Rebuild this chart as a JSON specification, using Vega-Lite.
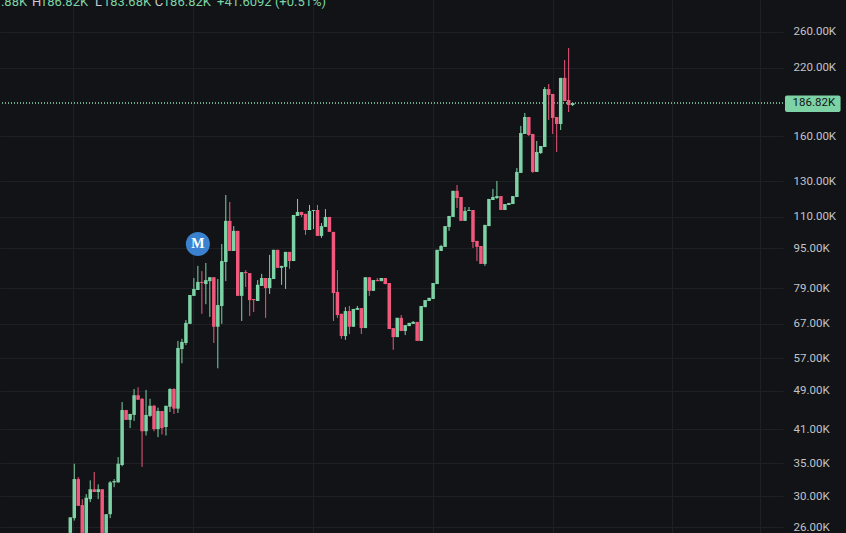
{
"$schema":"https://vega.github.io/schema/vega-lite/v6.json",
"width":783,"height":533,"padding":{"left":0,"top":0,"right":63,"bottom":0},"autosize":"none","background":"#121316",
"view":{"stroke":null},
"config":{"axis":{"labelFont":"Roboto","gridColor":"#1e2023","gridWidth":1}},
"datasets":{
"candles":[
{"t":0,"o":25.3,"h":27.2,"l":25.3,"c":27.2},
{"t":1,"o":27.1,"h":34.9,"l":26.8,"c":32.5},
{"t":2,"o":32.5,"h":32.8,"l":28.7,"c":28.7},
{"t":3,"o":28.8,"h":29.6,"l":25.3,"c":25.3},
{"t":4,"o":25.3,"h":30.3,"l":25.3,"c":29.8},
{"t":5,"o":29.6,"h":32.3,"l":29.2,"c":31.0},
{"t":6,"o":31.0,"h":33.6,"l":30.6,"c":30.6},
{"t":7,"o":30.6,"h":31.7,"l":29.6,"c":31.0},
{"t":8,"o":31.0,"h":31.0,"l":25.3,"c":25.3},
{"t":9,"o":25.3,"h":27.6,"l":25.3,"c":27.6},
{"t":10,"o":27.6,"h":32.2,"l":27.1,"c":32.0},
{"t":11,"o":32.0,"h":32.5,"l":31.3,"c":32.2},
{"t":12,"o":32.0,"h":36.0,"l":32.0,"c":34.9},
{"t":13,"o":34.7,"h":46.5,"l":34.5,"c":44.8},
{"t":14,"o":44.8,"h":44.8,"l":42.8,"c":42.8},
{"t":15,"o":42.8,"h":44.0,"l":41.2,"c":44.0},
{"t":16,"o":43.8,"h":49.4,"l":42.6,"c":48.0},
{"t":17,"o":48.0,"h":49.8,"l":47.0,"c":47.0},
{"t":18,"o":47.2,"h":47.4,"l":34.4,"c":40.6},
{"t":19,"o":40.6,"h":49.2,"l":39.8,"c":43.8},
{"t":20,"o":43.6,"h":47.2,"l":43.4,"c":45.7},
{"t":21,"o":45.7,"h":45.9,"l":40.6,"c":41.0},
{"t":22,"o":41.0,"h":45.3,"l":39.5,"c":44.6},
{"t":23,"o":44.6,"h":44.6,"l":40.0,"c":41.2},
{"t":24,"o":41.4,"h":45.7,"l":39.8,"c":45.7},
{"t":25,"o":45.5,"h":49.6,"l":44.4,"c":49.4},
{"t":26,"o":49.4,"h":49.6,"l":44.0,"c":45.1},
{"t":27,"o":45.1,"h":61.8,"l":44.2,"c":59.8},
{"t":28,"o":59.5,"h":62.4,"l":55.7,"c":61.5},
{"t":29,"o":61.2,"h":68.1,"l":60.6,"c":67.2},
{"t":30,"o":66.9,"h":76.5,"l":66.9,"c":76.5},
{"t":31,"o":76.2,"h":82.8,"l":76.2,"c":78.7},
{"t":32,"o":78.3,"h":87.6,"l":78.3,"c":81.3},
{"t":33,"o":81.3,"h":85.5,"l":70.1,"c":80.9},
{"t":34,"o":80.5,"h":88.8,"l":73.3,"c":82.0},
{"t":35,"o":81.6,"h":83.1,"l":69.1,"c":83.1},
{"t":36,"o":83.1,"h":83.1,"l":61.2,"c":66.0},
{"t":37,"o":66.0,"h":82.4,"l":54.4,"c":73.0},
{"t":38,"o":72.7,"h":97.0,"l":66.9,"c":89.6},
{"t":39,"o":89.2,"h":121.8,"l":81.6,"c":108.0},
{"t":40,"o":108.0,"h":117.9,"l":93.9,"c":93.9},
{"t":41,"o":93.9,"h":105.4,"l":93.9,"c":103.1},
{"t":42,"o":103.1,"h":103.1,"l":76.2,"c":76.2},
{"t":43,"o":76.2,"h":85.1,"l":67.8,"c":85.1},
{"t":44,"o":85.1,"h":85.9,"l":79.4,"c":84.7},
{"t":45,"o":84.7,"h":84.7,"l":69.4,"c":74.7},
{"t":46,"o":75.1,"h":75.1,"l":70.7,"c":74.7},
{"t":47,"o":74.4,"h":82.0,"l":74.4,"c":80.2},
{"t":48,"o":79.8,"h":84.4,"l":79.8,"c":82.8},
{"t":49,"o":82.8,"h":82.8,"l":68.8,"c":79.0},
{"t":50,"o":79.0,"h":92.2,"l":76.9,"c":82.8},
{"t":51,"o":82.4,"h":94.4,"l":82.4,"c":94.4},
{"t":52,"o":94.4,"h":94.4,"l":86.8,"c":86.8},
{"t":53,"o":86.8,"h":87.6,"l":80.2,"c":87.6},
{"t":54,"o":87.2,"h":93.5,"l":78.7,"c":93.5},
{"t":55,"o":93.5,"h":93.5,"l":86.4,"c":89.6},
{"t":56,"o":89.6,"h":111.0,"l":89.6,"c":111.0},
{"t":57,"o":110.5,"h":119.6,"l":110.5,"c":112.6},
{"t":58,"o":112.6,"h":112.6,"l":110.0,"c":111.0},
{"t":59,"o":111.6,"h":111.6,"l":101.2,"c":103.5},
{"t":60,"o":103.5,"h":116.3,"l":103.5,"c":113.1},
{"t":61,"o":113.1,"h":113.6,"l":104.0,"c":113.6},
{"t":62,"o":113.6,"h":116.3,"l":100.7,"c":100.7},
{"t":63,"o":100.7,"h":106.9,"l":99.8,"c":105.4},
{"t":64,"o":105.0,"h":114.1,"l":105.0,"c":110.0},
{"t":65,"o":110.0,"h":110.0,"l":102.6,"c":102.6},
{"t":66,"o":102.6,"h":102.6,"l":67.8,"c":77.2},
{"t":67,"o":77.6,"h":85.9,"l":68.8,"c":69.7},
{"t":68,"o":70.1,"h":70.1,"l":62.4,"c":63.2},
{"t":69,"o":63.2,"h":72.3,"l":62.1,"c":71.0},
{"t":70,"o":71.0,"h":72.7,"l":63.8,"c":66.0},
{"t":71,"o":66.0,"h":71.7,"l":66.0,"c":71.7},
{"t":72,"o":71.4,"h":72.7,"l":71.4,"c":72.0},
{"t":73,"o":72.0,"h":72.0,"l":63.8,"c":65.6},
{"t":74,"o":65.6,"h":83.1,"l":65.6,"c":83.1},
{"t":75,"o":83.1,"h":83.1,"l":76.2,"c":78.0},
{"t":76,"o":78.0,"h":82.0,"l":78.0,"c":82.0},
{"t":77,"o":82.0,"h":82.8,"l":81.6,"c":81.6},
{"t":78,"o":81.6,"h":82.8,"l":81.6,"c":82.8},
{"t":79,"o":82.8,"h":82.8,"l":80.5,"c":80.5},
{"t":80,"o":80.9,"h":80.9,"l":65.3,"c":65.3},
{"t":81,"o":65.6,"h":65.6,"l":59.3,"c":62.9},
{"t":82,"o":62.9,"h":68.8,"l":62.9,"c":68.8},
{"t":83,"o":68.8,"h":69.7,"l":64.7,"c":64.7},
{"t":84,"o":64.7,"h":66.5,"l":63.5,"c":66.5},
{"t":85,"o":66.2,"h":67.2,"l":66.2,"c":67.2},
{"t":86,"o":66.9,"h":67.8,"l":66.9,"c":67.5},
{"t":87,"o":67.5,"h":67.5,"l":61.8,"c":61.8},
{"t":88,"o":61.8,"h":72.7,"l":61.8,"c":72.7},
{"t":89,"o":72.3,"h":74.7,"l":72.3,"c":74.7},
{"t":90,"o":74.4,"h":75.5,"l":74.4,"c":75.5},
{"t":91,"o":75.1,"h":80.9,"l":75.1,"c":80.9},
{"t":92,"o":80.5,"h":94.4,"l":80.5,"c":94.4},
{"t":93,"o":93.9,"h":96.6,"l":93.9,"c":96.1},
{"t":94,"o":95.7,"h":105.4,"l":95.7,"c":105.4},
{"t":95,"o":105.0,"h":110.5,"l":103.1,"c":110.5},
{"t":96,"o":110.0,"h":124.2,"l":110.0,"c":124.2},
{"t":97,"o":124.2,"h":127.6,"l":114.7,"c":120.1},
{"t":98,"o":120.7,"h":120.7,"l":108.0,"c":108.0},
{"t":99,"o":108.0,"h":115.2,"l":108.0,"c":113.1},
{"t":100,"o":113.1,"h":115.2,"l":113.1,"c":113.6},
{"t":101,"o":113.6,"h":113.6,"l":95.2,"c":97.9},
{"t":102,"o":98.4,"h":98.4,"l":89.6,"c":95.7},
{"t":103,"o":96.1,"h":96.1,"l":88.4,"c":88.4},
{"t":104,"o":88.4,"h":106.0,"l":87.6,"c":106.0},
{"t":105,"o":105.4,"h":119.6,"l":105.4,"c":119.6},
{"t":106,"o":119.0,"h":125.3,"l":119.0,"c":120.7},
{"t":107,"o":120.1,"h":130.0,"l":119.6,"c":121.2},
{"t":108,"o":121.2,"h":121.2,"l":113.6,"c":113.6},
{"t":109,"o":113.6,"h":116.8,"l":113.6,"c":116.8},
{"t":110,"o":116.3,"h":117.4,"l":116.3,"c":117.4},
{"t":111,"o":116.8,"h":121.2,"l":116.8,"c":121.2},
{"t":112,"o":120.7,"h":138.1,"l":120.7,"c":135.6},
{"t":113,"o":135.0,"h":168.0,"l":135.0,"c":162.5},
{"t":114,"o":161.8,"h":178.4,"l":161.8,"c":175.1},
{"t":115,"o":175.1,"h":175.1,"l":160.3,"c":161.0},
{"t":116,"o":161.8,"h":161.8,"l":135.0,"c":135.6},
{"t":117,"o":135.6,"h":156.6,"l":135.6,"c":148.8},
{"t":118,"o":148.1,"h":153.0,"l":147.4,"c":153.0},
{"t":119,"o":152.3,"h":201.3,"l":152.3,"c":199.4},
{"t":120,"o":199.4,"h":204.1,"l":172.7,"c":194.0},
{"t":121,"o":194.9,"h":194.9,"l":161.8,"c":174.3},
{"t":122,"o":175.1,"h":175.1,"l":148.8,"c":169.5},
{"t":123,"o":169.5,"h":210.0,"l":164.8,"c":210.0},
{"t":124,"o":210.0,"h":228.2,"l":188.6,"c":188.6},
{"t":125,"o":189.5,"h":241.4,"l":179.2,"c":185.1},
{"t":126,"o":185.1,"h":186.82,"l":184.2,"c":186.82}
],
"header":[
{"t":-17.4,"p":294,"text":".88K","kind":"v"},
{"t":-9.6,"p":294,"text":"H","kind":"k"},
{"t":-7.6,"p":294,"text":"186.82K","kind":"v"},
{"t":6.2,"p":294,"text":"L","kind":"k"},
{"t":8.2,"p":294,"text":"183.68K","kind":"v"},
{"t":21.2,"p":294,"text":"C","kind":"k"},
{"t":23.2,"p":294,"text":"186.82K","kind":"v"},
{"t":36.8,"p":294,"text":"+41.6092 (+0.51%)","kind":"v"}
],
"last":[{"price":186.82,"top":193.6,"bottom":179.2,"t1":179.26,"t2":193.2,"tm":186.5,"label":"186.82K"}],
"marker":[{"t":32,"price":97,"label":"M"}]
},
"encoding":{
"x":{"field":"t","type":"quantitative","scale":{"domain":[-17.63,178.76],"nice":false,"zero":false,"padding":0},
"axis":{"values":[0.8,30.9,61,91,121.1,151,173],"grid":true,"labels":false,"ticks":false,"domain":false,"title":null}}
},
"layer":[
{"data":{"name":"last"},"mark":{"type":"rule","color":"#8be0b2","strokeDash":[1,2],"strokeWidth":1.4},
"encoding":{"x":null,"y":{"field":"price","type":"quantitative","scale":{"type":"log","domain":[25.29,301.7],"nice":false,"padding":0},
"axis":{"orient":"right","values":[26,30,35,41,49,57,67,79,95,110,130,160,220,260],"labelExpr":"format(datum.value,'.2f')+'K'","labelColor":"#c0c3ca","labelFontSize":11.5,"labelPadding":10,"labelFont":"Roboto","grid":true,"ticks":false,"domain":false,"title":null}}}},
{"data":{"name":"candles"},"mark":{"type":"rule","strokeWidth":1,"clip":true},
"encoding":{"y":{"field":"h","type":"quantitative"},"y2":{"field":"l"},
"color":{"condition":{"test":"datum.c>=datum.o","value":"#7dd3a5"},"value":"#f0587c"}}},
{"data":{"name":"candles"},"mark":{"type":"bar","size":3.5,"clip":true},
"encoding":{"y":{"field":"o","type":"quantitative"},"y2":{"field":"c"},
"color":{"condition":{"test":"datum.c>=datum.o","value":"#7dd3a5"},"value":"#f0587c"}}},
{"data":{"name":"marker"},"mark":{"type":"point","filled":true,"shape":"circle","size":576,"color":"#3a82d0","opacity":1},
"encoding":{"y":{"field":"price","type":"quantitative"}}},
{"data":{"name":"marker"},"mark":{"type":"text","font":"Liberation Serif","fontWeight":"bold","fontSize":14,"color":"#ffffff"},
"encoding":{"y":{"field":"price","type":"quantitative"},"text":{"field":"label"}}},
{"data":{"name":"last"},"mark":{"type":"rect","color":"#7dd3a5","cornerRadius":2,"clip":false},
"encoding":{"x":{"field":"t1","type":"quantitative"},"x2":{"field":"t2"},"y":{"field":"top","type":"quantitative"},"y2":{"field":"bottom"}}},
{"data":{"name":"last"},"mark":{"type":"text","font":"Roboto","fontSize":11.5,"color":"#131417","clip":false},
"encoding":{"x":{"field":"tm","type":"quantitative"},"y":{"field":"price","type":"quantitative"},"text":{"field":"label"}}},
{"data":{"name":"header"},"mark":{"type":"text","font":"Roboto","fontSize":13,"align":"left","baseline":"alphabetic"},
"encoding":{"y":{"field":"p","type":"quantitative"},"text":{"field":"text"},
"color":{"field":"kind","type":"nominal","scale":{"domain":["v","k"],"range":["#7dd3a5","#c8cad0"]},"legend":null}}}
]
}
